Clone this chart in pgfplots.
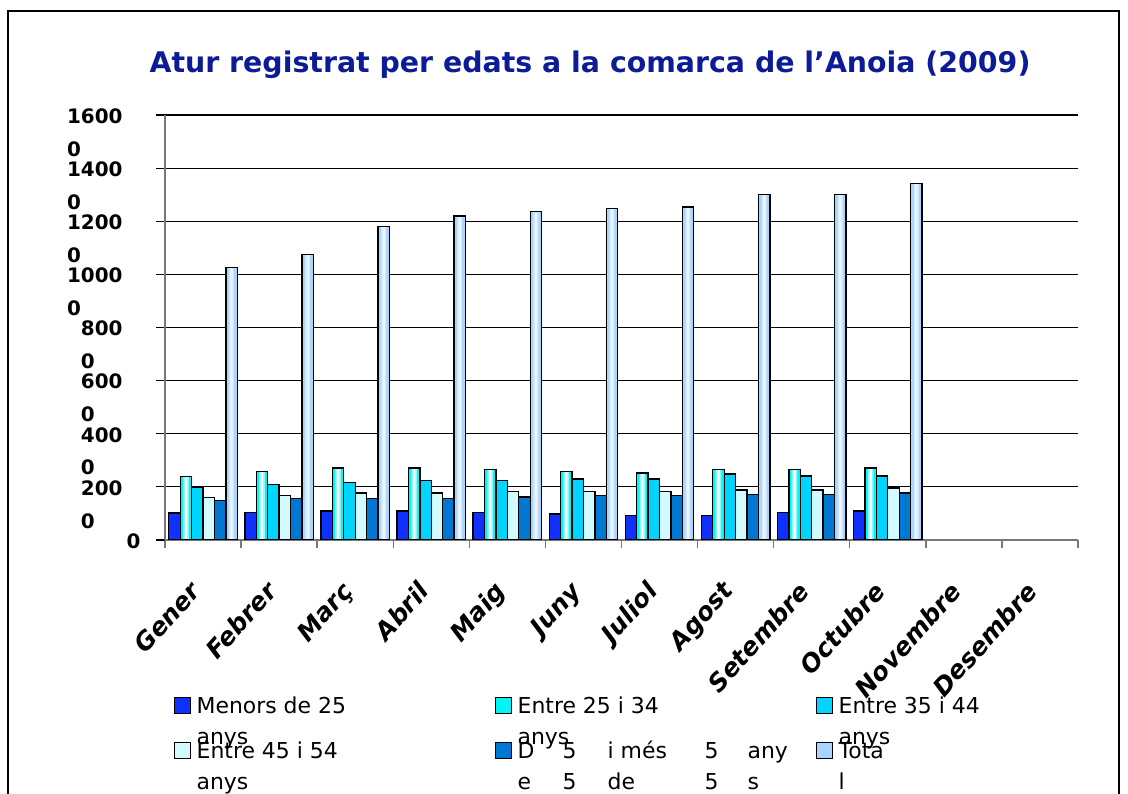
\documentclass[border=0pt]{standalone}
\usepackage{pgfplots}
\usepackage{pgfplotstable}
\pgfplotsset{compat=1.18}
\usepackage{fontspec}
\setmainfont{DejaVu Sans}
\definecolor{titleblue}{RGB}{12,28,150}
\definecolor{cMen}{RGB}{16,48,255}
\definecolor{cA}{RGB}{0,245,245}
\definecolor{cB}{RGB}{0,212,255}
\definecolor{cC}{RGB}{210,250,255}
\definecolor{cD}{RGB}{0,120,210}
\definecolor{cTot}{RGB}{168,212,255}
\definecolor{axgray}{RGB}{120,120,120}

\pgfplotstableread{
x men a2534 a3544 a4554 a55 tot
0 1020 2400 2000 1610 1500 10250
1 1030 2570 2100 1680 1570 10760
2 1090 2710 2170 1770 1560 11790
3 1090 2710 2250 1770 1560 12200
4 1030 2650 2250 1830 1620 12380
5 980 2580 2300 1830 1670 12480
6 920 2520 2300 1820 1670 12540
7 920 2650 2490 1880 1710 13020
8 1030 2650 2410 1880 1710 13020
9 1090 2710 2410 1960 1770 13420
}\data

\newcommand{\LE}[1]{\smash{\raisebox{-8bp}{\parbox[t]{290bp}{\fontsize{22}{32}\selectfont #1}}}}

\begin{document}
\begin{tikzpicture}
\useasboundingbox (0,0) rectangle (1128bp,794bp);
\fill[white] (0,0) rectangle (1128bp,794bp);
\draw[black, line width=1.5bp] (8bp,-5bp) -- (8bp,783bp) -- (1119bp,783bp) -- (1119bp,-5bp);
\node[font=\bfseries\fontsize{28.5}{34}\selectfont, text=titleblue] at (590bp,729bp)
  {Atur registrat per edats a la comarca de l'Anoia (2009)};
\begin{axis}[
  at={(165bp,254bp)}, anchor=south west,
  scale only axis, width=913bp, height=425bp,
  xmin=-0.5, xmax=11.5, ymin=0, ymax=16000,
  axis x line*=bottom, axis y line*=left,
  axis line style={axgray, line width=1.6bp},
  ytick={0,2000,...,16000},
  yticklabels={0\kern-18bp, {200\\0}, {400\\0}, {600\\0}, {800\\0}, {1000\\0}, {1200\\0}, {1400\\0}, {1600\\0}},
  yticklabel style={font=\bfseries\fontsize{20}{33}\selectfont, align=left, anchor=north east, yshift=10bp, xshift=-30bp},
  ymajorgrids, major grid style={black, line width=1.2bp},
  ytick style={black, line width=1.2bp},
  major tick length=9bp, minor tick length=8bp, tick align=outside,
  xtick={0,...,11},
  xticklabels={Gener,Febrer,Març,Abril,Maig,Juny,Juliol,Agost,Setembre,Octubre,Novembre,Desembre},
  major x tick style={draw=none},
  minor xtick={-0.5,0.5,...,11.5},
  minor x tick style={axgray, line width=1.4bp},
  xticklabel style={font=\bfseries\itshape\fontsize{25}{25}\selectfont, xshift=-15bp, yshift=-26bp, rotate=48, anchor=north east},
  scaled y ticks=false,
  ybar, bar width=0.15,
  every axis plot/.append style={draw=black, line width=1.3bp},
  legend columns=3,
  legend cell align=left,
  legend image code/.code={\draw[#1, draw=black, line width=1bp] (0bp,-8bp) rectangle (16bp,8bp);},
  legend style={at={(0.006,-0.365)}, anchor=north west, draw=none, fill=none,
    nodes={inner sep=0pt}, row sep=28bp,
    /tikz/every odd column/.append style={column sep=6bp},
    /tikz/every even column/.append style={column sep=8bp}},
]
\addplot[fill=cMen, bar shift=-0.375] table[x=x,y=men]{\data};
\addplot[fill=cA, bar shift=-0.225] table[x=x,y=a2534]{\data};
\addplot[fill=cB, bar shift=-0.075] table[x=x,y=a3544]{\data};
\addplot[fill=cC, bar shift=0.075] table[x=x,y=a4554]{\data};
\addplot[fill=cD, bar shift=0.225] table[x=x,y=a55]{\data};
\addplot[fill=cTot, bar shift=0.375] table[x=x,y=tot]{\data};
% lighter centres of the shaded bars
\addplot[forget plot, draw=none, fill=cA!45!white, bar width=0.075, bar shift=-0.225] table[x=x,y=a2534]{\data};
\addplot[forget plot, draw=none, fill=white, bar width=0.03, bar shift=-0.225] table[x=x,y=a2534]{\data};
\addplot[forget plot, draw=none, fill=cTot!55!white, bar width=0.07, bar shift=0.375] table[x=x,y=tot]{\data};
\addplot[forget plot, draw=none, fill=cTot!20!white, bar width=0.03, bar shift=0.375] table[x=x,y=tot]{\data};
\addplot[forget plot, fill=none, draw=black, bar shift=-0.225] table[x=x,y=a2534]{\data};
\addplot[forget plot, fill=none, draw=black, bar shift=0.375] table[x=x,y=tot]{\data};
\addlegendentry{\LE{Menors de 25\\anys}}
\addlegendentry{\LE{Entre 25 i 34\\anys}}
\addlegendentry{\LE{Entre 35 i 44\\anys}}
\addlegendentry{\LE{Entre 45 i 54\\anys}}
\addlegendentry{\LE{\makebox[45bp][l]{D}\makebox[45bp][l]{5}\makebox[97bp][l]{i més}\makebox[43bp][l]{5}any\\\makebox[45bp][l]{e}\makebox[45bp][l]{5}\makebox[97bp][l]{de}\makebox[43bp][l]{5}s}}
\addlegendentry{\LE{Tota\\l}}
\end{axis}
\end{tikzpicture}
\end{document}
